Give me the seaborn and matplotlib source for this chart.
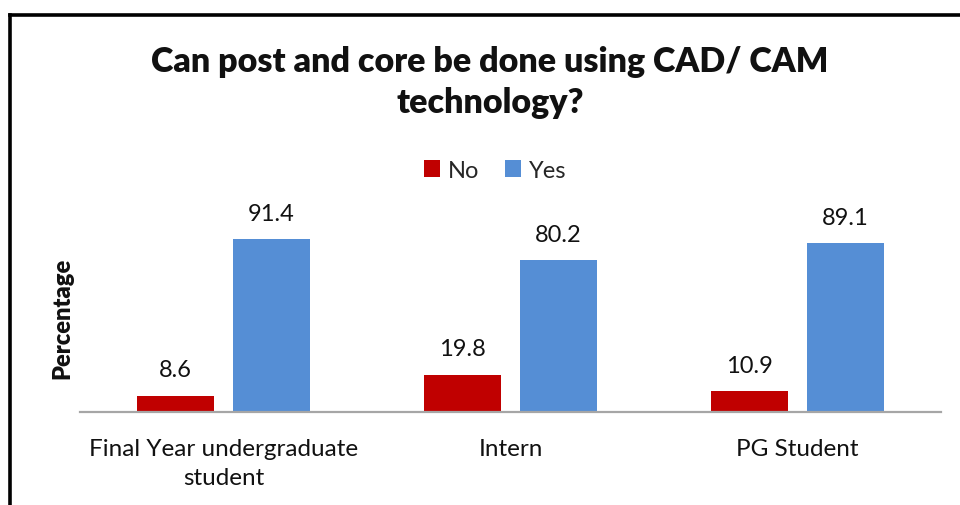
import matplotlib
matplotlib.use("Agg")
import matplotlib.pyplot as plt
from matplotlib.lines import Line2D
import seaborn as sns
import pandas as pd

categories = ["Final Year undergraduate\nstudent", "Intern", "PG Student"]
no_values = [8.6, 19.8, 10.9]
yes_values = [91.4, 80.2, 89.1]
series_names = ["No", "Yes"]
colors = {"No": "#C00000", "Yes": "#558ED5"}

df = pd.DataFrame({
    "group": categories * 2,
    "answer": ["No"] * 3 + ["Yes"] * 3,
    "value": no_values + yes_values,
})

sns.set_theme(style="white")
plt.rcParams["font.family"] = ["Lato", "DejaVu Sans"]

fig = plt.figure(figsize=(9.6, 5.06), dpi=100)
ax = fig.add_axes([80 / 960, 1 - 413 / 506, 861 / 960, 189.3 / 506])

sns.barplot(data=df, x="group", y="value", hue="answer", hue_order=series_names,
            order=categories, palette=colors, width=0.67, gap=0.2,
            saturation=1, edgecolor="none", legend=True, ax=ax)

ax.set_ylim(0, 100)
ax.set_xlim(-0.5, 2.5)
ax.set_yticks([])
ax.set_xlabel("")
ax.set_ylabel("")
ax.tick_params(axis="x", length=0, labelsize=17.5, pad=18.5, colors="#111111")
for lbl in ax.get_xticklabels():
    lbl.set_linespacing(1.5)
for side in ["top", "right", "left"]:
    ax.spines[side].set_visible(False)
ax.spines["bottom"].set_color("#A6A6A6")
ax.spines["bottom"].set_linewidth(1.6)

for container in ax.containers:
    ax.bar_label(container, fmt="%.1f", padding=11, fontsize=17, color="#111111")

handles, labels = ax.get_legend_handles_labels()
ax.legend(handles, labels, loc="center", bbox_to_anchor=(495 / 960, 1 - 171 / 506),
          bbox_transform=fig.transFigure, ncol=2, frameon=False, fontsize=17,
          handlelength=0.7, handleheight=0.7, handletextpad=0.3, columnspacing=1.1)

fig.text(62 / 960, 1 - 318 / 506, "Percentage", rotation=90, ha="center", va="center",
         fontsize=17, fontweight="heavy", color="#111111")

fig.text(490 / 960, 1 - 62 / 506, "Can post and core be done using CAD/ CAM",
         ha="center", va="center", fontsize=24.5, fontweight="heavy", color="#111111")
fig.text(490 / 960, 1 - 103 / 506, "technology?",
         ha="center", va="center", fontsize=24.5, fontweight="heavy", color="#111111")

# outer frame: left and top edges
fig.add_artist(Line2D([10 / 960, 10 / 960], [0, 1 - 15.5 / 506],
                      transform=fig.transFigure, color="black", lw=2.6,
                      solid_capstyle="projecting"))
fig.add_artist(Line2D([10 / 960, 1], [1 - 15.5 / 506, 1 - 15.5 / 506],
                      transform=fig.transFigure, color="black", lw=2.6,
                      solid_capstyle="projecting"))

fig.savefig("out.png", dpi=100)
